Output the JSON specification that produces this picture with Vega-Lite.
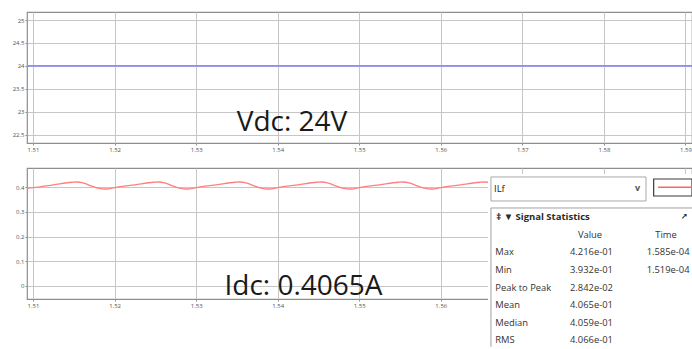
{
  "$schema": "https://vega.github.io/schema/vega-lite/v6.json",
  "background": "white",
  "padding": {"left": 5, "top": 11, "right": 0, "bottom": 0},
  "spacing": 9,
  "config": {
    "font": "Open Sans",
    "view": {"stroke": "#8e8e8e", "strokeWidth": 1.2},
    "axis": {
      "labelFont": "Open Sans",
      "labelFontSize": 6,
      "labelColor": "#555555",
      "gridColor": "#c6c6c6",
      "gridWidth": 1,
      "tickColor": "#8e8e8e",
      "tickSize": 2,
      "tickCount": 20,
      "domain": false,
      "labelPadding": 1,
      "labelFlush": false,
      "labelOverlap": false
    },
    "axisY": {"minExtent": 21},
    "axisX": {"minExtent": 14}
  },
  "datasets": {
    "vdc": [
      {"t": 1.50926, "v": 24},
      {"t": 1.5908, "v": 24}
    ],
    "ilf": [
      {"t": 1.50926, "v": 0.3962},
      {"t": 1.5100, "v": 0.3985}, {"t": 1.5125, "v": 0.4100}, {"t": 1.5148, "v": 0.4205}, {"t": 1.5154, "v": 0.4216},
      {"t": 1.5161, "v": 0.4185}, {"t": 1.5170, "v": 0.4070}, {"t": 1.5178, "v": 0.3978}, {"t": 1.5185, "v": 0.3940},
      {"t": 1.5190, "v": 0.3932}, {"t": 1.5196, "v": 0.3955},
      {"t": 1.5200, "v": 0.3985}, {"t": 1.5225, "v": 0.4100}, {"t": 1.5248, "v": 0.4205}, {"t": 1.5254, "v": 0.4216},
      {"t": 1.5261, "v": 0.4185}, {"t": 1.5270, "v": 0.4070}, {"t": 1.5278, "v": 0.3978}, {"t": 1.5285, "v": 0.3940},
      {"t": 1.5290, "v": 0.3932}, {"t": 1.5296, "v": 0.3955},
      {"t": 1.5300, "v": 0.3985}, {"t": 1.5325, "v": 0.4100}, {"t": 1.5348, "v": 0.4205}, {"t": 1.5354, "v": 0.4216},
      {"t": 1.5361, "v": 0.4185}, {"t": 1.5370, "v": 0.4070}, {"t": 1.5378, "v": 0.3978}, {"t": 1.5385, "v": 0.3940},
      {"t": 1.5390, "v": 0.3932}, {"t": 1.5396, "v": 0.3955},
      {"t": 1.5400, "v": 0.3985}, {"t": 1.5425, "v": 0.4100}, {"t": 1.5448, "v": 0.4205}, {"t": 1.5454, "v": 0.4216},
      {"t": 1.5461, "v": 0.4185}, {"t": 1.5470, "v": 0.4070}, {"t": 1.5478, "v": 0.3978}, {"t": 1.5485, "v": 0.3940},
      {"t": 1.5490, "v": 0.3932}, {"t": 1.5496, "v": 0.3955},
      {"t": 1.5500, "v": 0.3985}, {"t": 1.5525, "v": 0.4100}, {"t": 1.5548, "v": 0.4205}, {"t": 1.5554, "v": 0.4216},
      {"t": 1.5561, "v": 0.4185}, {"t": 1.5570, "v": 0.4070}, {"t": 1.5578, "v": 0.3978}, {"t": 1.5585, "v": 0.3940},
      {"t": 1.5590, "v": 0.3932}, {"t": 1.5596, "v": 0.3955},
      {"t": 1.5600, "v": 0.3985}, {"t": 1.5625, "v": 0.4100}, {"t": 1.5648, "v": 0.4205}, {"t": 1.5654, "v": 0.4216},
      {"t": 1.5661, "v": 0.4185}
    ],
    "stats": [
      {"stat": "Max", "value": "4.216e-01", "time": "1.585e-04"},
      {"stat": "Min", "value": "3.932e-01", "time": "1.519e-04"},
      {"stat": "Peak to Peak", "value": "2.842e-02", "time": ""},
      {"stat": "Mean", "value": "4.065e-01", "time": ""},
      {"stat": "Median", "value": "4.059e-01", "time": ""},
      {"stat": "RMS", "value": "4.066e-01", "time": ""}
    ]
  },
  "vconcat": [
    {
      "width": 665,
      "height": 131,
      "layer": [
        {
          "data": {"name": "vdc"},
          "mark": {"type": "line", "color": "#8c8cff", "strokeWidth": 1.6},
          "encoding": {
            "x": {
              "field": "t", "type": "quantitative", "title": null,
              "scale": {"domain": [1.50926, 1.5908], "nice": false, "zero": false},
              "axis": {"values": [1.51, 1.52, 1.53, 1.54, 1.55, 1.56, 1.57, 1.58, 1.59], "format": ".2f"}
            },
            "y": {
              "field": "v", "type": "quantitative", "title": null,
              "scale": {"domain": [22.316, 25.175], "nice": false, "zero": false},
              "axis": {"values": [22.5, 23, 23.5, 24, 24.5, 25], "format": "~g"}
            }
          }
        },
        {
          "data": {"values": [{"label": "Vdc: 24V"}]},
          "mark": {"type": "text", "font": "Open Sans", "fontSize": 28, "color": "#1a1a1a", "align": "center", "baseline": "alphabetic"},
          "encoding": {
            "x": {"datum": 1.54175},
            "y": {"datum": 22.571},
            "text": {"field": "label"}
          }
        }
      ]
    },
    {
      "width": 665,
      "height": 131,
      "resolve": {"scale": {"y": "independent"}},
      "layer": [
        {
          "layer": [
            {
              "data": {"name": "ilf"},
              "mark": {"type": "line", "color": "#ff7f7f", "strokeWidth": 1.3, "interpolate": "monotone"},
              "encoding": {
                "x": {
                  "field": "t", "type": "quantitative", "title": null,
                  "scale": {"domain": [1.50926, 1.5908], "nice": false, "zero": false},
                  "axis": {
                    "values": [1.51, 1.52, 1.53, 1.54, 1.55, 1.56, 1.57, 1.58, 1.59],
                    "format": ".2f",
                    "labelExpr": "datum.value > 1.565 ? '' : datum.label"
                  }
                },
                "y": {
                  "field": "v", "type": "quantitative", "title": null,
                  "scale": {"domain": [-0.054, 0.4785], "nice": false, "zero": false},
                  "axis": {"values": [0, 0.1, 0.2, 0.3, 0.4], "format": "~g"}
                }
              }
            },
            {
              "data": {"values": [{"label": "Idc: 0.4065A"}]},
              "mark": {"type": "text", "font": "Open Sans", "fontSize": 28, "color": "#1a1a1a", "align": "center", "baseline": "alphabetic"},
              "encoding": {
                "x": {"datum": 1.54316},
                "y": {"datum": -0.0360},
                "text": {"field": "label"}
              }
            },
            {
              "data": {"values": [{"part": "widget background"}]},
              "mark": {"type": "rect", "fill": "white"},
              "encoding": {
                "x": {"datum": 1.56578}, "x2": {"datum": 1.5908},
                "y": {"datum": 0.4541}, "y2": {"datum": -0.2483}
              }
            },
            {
              "data": {"values": [{"part": "signal selector"}]},
              "mark": {"type": "rect", "fill": "white", "stroke": "#a8a8a8", "strokeWidth": 1},
              "encoding": {
                "x": {"datum": 1.56615}, "x2": {"datum": 1.58516},
                "y": {"datum": 0.4420}, "y2": {"datum": 0.3444}
              }
            },
            {
              "data": {"values": [{"label": "ILf"}]},
              "mark": {"type": "text", "font": "Open Sans", "fontSize": 9.5, "color": "#222222", "align": "left", "baseline": "middle"},
              "encoding": {
                "x": {"datum": 1.56652},
                "y": {"datum": 0.3932},
                "text": {"field": "label"}
              }
            },
            {
              "data": {"values": [{"label": "v"}]},
              "mark": {"type": "text", "font": "Open Sans", "fontSize": 9, "fontWeight": "bold", "color": "#555555", "align": "center", "baseline": "middle"},
              "encoding": {
                "x": {"datum": 1.58414},
                "y": {"datum": 0.3970},
                "text": {"field": "label"}
              }
            },
            {
              "data": {"values": [{"part": "line style box"}]},
              "mark": {"type": "rect", "fill": "white", "stroke": "#3a3a3a", "strokeWidth": 1.2},
              "encoding": {
                "x": {"datum": 1.58610}, "x2": {"datum": 1.5908},
                "y": {"datum": 0.4338}, "y2": {"datum": 0.3647}
              }
            },
            {
              "data": {"values": [{"part": "line style sample"}]},
              "mark": {"type": "rule", "color": "#ff6464", "strokeWidth": 1.5},
              "encoding": {
                "x": {"datum": 1.58664}, "x2": {"datum": 1.5908},
                "y": {"datum": 0.4001}
              }
            },
            {
              "data": {"values": [{"part": "panel top edge"}]},
              "mark": {"type": "rule", "color": "#a0a0a0", "strokeWidth": 1},
              "encoding": {
                "x": {"datum": 1.56615}, "x2": {"datum": 1.5908},
                "y": {"datum": 0.3160}
              }
            },
            {
              "data": {"values": [{"part": "panel left edge"}]},
              "mark": {"type": "rule", "color": "#a0a0a0", "strokeWidth": 1},
              "encoding": {
                "x": {"datum": 1.56615},
                "y": {"datum": 0.3160}, "y2": {"datum": -0.2483}
              }
            }
          ]
        },
        {
          "data": {"name": "stats"},
          "layer": [
            {
              "data": {"values": [{"label": "‡ ▼ Signal Statistics"}]},
              "mark": {"type": "text", "font": "Open Sans", "fontSize": 9.5, "fontWeight": "bold", "color": "#2a2a2a", "align": "left", "baseline": "middle"},
              "encoding": {
                "x": {"datum": 1.56680},
                "y": {"datum": "title", "type": "ordinal", "axis": null,
                  "scale": {"type": "point", "domain": ["title", "head", "Max", "Min", "Peak to Peak", "Mean", "Median", "RMS"], "range": [49, 172.4], "padding": 0}},
                "text": {"field": "label"}
              }
            },
            {
              "data": {"values": [{"label": "↗"}]},
              "mark": {"type": "text", "font": "DejaVu Sans", "fontSize": 8, "fontWeight": "bold", "color": "#2a2a2a", "align": "center", "baseline": "middle"},
              "encoding": {
                "x": {"datum": 1.58982},
                "y": {"datum": "title", "type": "ordinal"},
                "text": {"field": "label"}
              }
            },
            {
              "data": {"values": [{"label": "Value"}]},
              "mark": {"type": "text", "font": "Open Sans", "fontSize": 9.4, "color": "#333333", "align": "center", "baseline": "middle"},
              "encoding": {
                "x": {"datum": 1.57829},
                "y": {"datum": "head", "type": "ordinal"},
                "text": {"field": "label"}
              }
            },
            {
              "data": {"values": [{"label": "Time"}]},
              "mark": {"type": "text", "font": "Open Sans", "fontSize": 9.4, "color": "#333333", "align": "center", "baseline": "middle"},
              "encoding": {
                "x": {"datum": 1.58761},
                "y": {"datum": "head", "type": "ordinal"},
                "text": {"field": "label"}
              }
            },
            {
              "mark": {"type": "text", "font": "Open Sans", "fontSize": 9.4, "color": "#333333", "align": "left", "baseline": "middle"},
              "encoding": {
                "x": {"datum": 1.56668},
                "y": {"field": "stat", "type": "ordinal"},
                "text": {"field": "stat"}
              }
            },
            {
              "mark": {"type": "text", "font": "Open Sans", "fontSize": 9.4, "color": "#333333", "align": "left", "baseline": "middle"},
              "encoding": {
                "x": {"datum": 1.57584},
                "y": {"field": "stat", "type": "ordinal"},
                "text": {"field": "value"}
              }
            },
            {
              "mark": {"type": "text", "font": "Open Sans", "fontSize": 9.4, "color": "#333333", "align": "left", "baseline": "middle"},
              "encoding": {
                "x": {"datum": 1.58524},
                "y": {"field": "stat", "type": "ordinal"},
                "text": {"field": "time"}
              }
            }
          ]
        }
      ]
    }
  ]
}
